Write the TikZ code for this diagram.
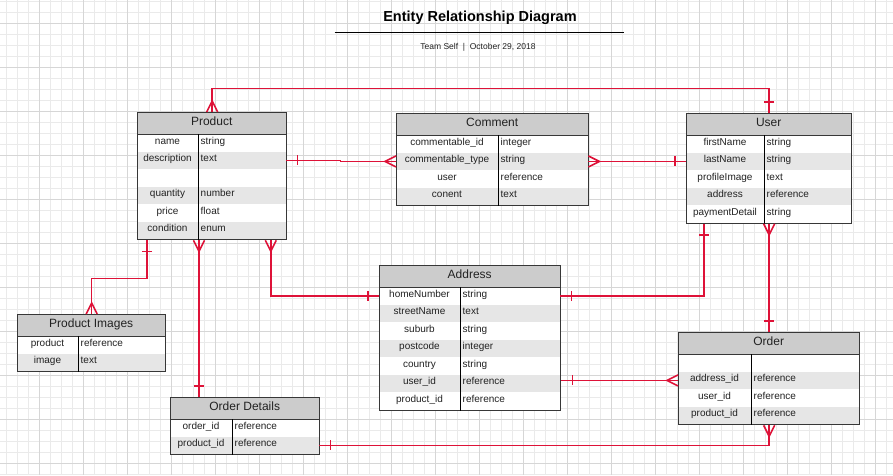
\documentclass[tikz,border=0pt]{standalone}
\usepackage{fontspec}
\setmainfont{Liberation Sans}
\usetikzlibrary{calc,decorations.markings}

\definecolor{errel}{RGB}{222,18,56}
\definecolor{erhead}{RGB}{204,204,204}
\definecolor{errow}{RGB}{230,230,230}
\definecolor{erline}{RGB}{55,55,55}
\definecolor{ertext}{RGB}{34,34,34}
\definecolor{gridminor}{RGB}{234,234,234}
\definecolor{gridmajor}{RGB}{214,214,214}

% #1 name, #2 title, #3 west, #4 north, #5 width, #6 divider, #7 rows, #8 fields
\newcommand{\erentity}[8]{%
  \node[erheadbox, minimum width=#5pt, anchor=north west] (#1-h) at (#3,#4) {#2};
  \foreach \f/\t [count=\i] in {#8} {
    \pgfmathsetmacro{\ry}{#4+22+17.5*(\i-1)}
    \ifodd\i\relax \def\rowfill{white}\else \def\rowfill{errow}\fi
    \node[errowbox, fill=\rowfill, minimum width=#5pt, anchor=north west] (#1-\i) at (#3,\ry) {};
    \node[erfield] (#1-\i-f) at ($(#1-\i.west)+(#6/2,-1)$) {\f};
    \node[erfield, anchor=west] (#1-\i-t) at ($(#1-\i.west)+(#6+2.5,-1)$) {\t};
  }
  \node[erbox, minimum width=#5pt, minimum height={22+17.5*#7}, anchor=north west] (#1) at (#3,#4) {};
  \draw[erline, line width=1.2pt] (#1-h.south west) -- (#1-h.south east);
  \draw[black, line width=0.9pt] ($(#1.north west)+(#6,22)$) -- ($(#1.south west)+(#6,0)$);
}

\begin{document}
\begin{tikzpicture}[x=1pt,y=-1pt]

    \tikzset{
      erheadbox/.style={fill=erhead, minimum height=22pt, inner sep=0pt, text=ertext,
        text height=8.6pt, text depth=3.5pt, font=\fontsize{12}{14}\selectfont},
      errowbox/.style={minimum height=17.5pt, inner sep=0pt},
      erfield/.style={inner sep=0pt, text=ertext, text height=7pt, text depth=2pt,
        font=\fontsize{10}{12}\selectfont},
      erbox/.style={draw=erline, line width=1.3pt, inner sep=0pt},
      rel/.style={draw=errel, line width=1.6pt},
      relmark/.style={draw=errel, line width=1.6pt},
      many start/.style={postaction={decorate, decoration={markings,
        mark=at position 0 with {\draw[relmark] (0pt,5.5pt) -- (11pt,0pt) -- (0pt,-5.5pt);}}}},
      many end/.style={postaction={decorate, decoration={markings,
        mark=at position 1 with {\draw[relmark] (0pt,5.5pt) -- (-11pt,0pt) -- (0pt,-5.5pt);}}}},
      one start/.style={postaction={decorate, decoration={markings,
        mark=at position 0 with {\draw[relmark] (11pt,5pt) -- (11pt,-5pt);}}}},
      one end/.style={postaction={decorate, decoration={markings,
        mark=at position 1 with {\draw[relmark] (-11pt,5pt) -- (-11pt,-5pt);}}}},
    }
    \useasboundingbox (0,0) rectangle (893,475);
    \fill[white] (0,0) rectangle (893,475);

    % grid
    \foreach \gx in {6.3,17.3,...,893} \draw[gridminor, line width=0.8pt] (\gx,0) -- (\gx,475);
    \foreach \gy in {1.3,12.3,...,475} \draw[gridminor, line width=0.8pt] (0,\gy) -- (893,\gy);
    \foreach \gx in {39.3,83.3,...,893} \draw[gridmajor, line width=0.8pt] (\gx,0) -- (\gx,475);
    \foreach \gy in {23.3,67.3,...,475} \draw[gridmajor, line width=0.8pt] (0,\gy) -- (893,\gy);

    % header
    \node[font=\bfseries\fontsize{14.5}{16}\selectfont] (title) at (480,17.7) {Entity Relationship Diagram};
    \draw[black, line width=1.2pt] (334.7,32.3) -- (624,32.3);
    \node[text=ertext, font=\fontsize{8.5}{10}\selectfont] (subtitle) at (478,47.5) {Team Self\ \ |\ \ October 29, 2018};

    % entities
    \erentity{product}{Product}{137}{112}{149}{61}{6}{name/string, description/text, {}/{}, quantity/number, price/float, condition/enum}
    \erentity{comment}{Comment}{396}{113}{192}{102}{4}{commentable\_id/integer, commentable\_type/string, user/reference, conent/text}
    \erentity{user}{User}{686}{113}{165}{78}{5}{firstName/string, lastName/string, profileImage/text, address/reference, paymentDetail/string}
    \erentity{pimages}{Product Images}{17}{314}{148}{61}{2}{product/reference, image/text}
    \erentity{odetails}{Order Details}{170}{397}{149}{62}{2}{order\_id/reference, product\_id/reference}
    \erentity{address}{Address}{379}{265}{181}{81}{7}{homeNumber/string, streetName/text, suburb/string, postcode/integer, country/string, user\_id/reference, product\_id/reference}
    \erentity{order}{Order}{678}{332}{181}{73}{4}{{}/{}, address\_id/reference, user\_id/reference, product\_id/reference}

    % relations
    \draw[rel, many start, one end] (product.north) -- ++(0,-23.5) -| (user.north);
    \draw[rel, one start, many end] (product-2.east) -- ++(54,0) |- (comment-2.west);
    \draw[rel, many start, one end] (comment-2.east) -- (user-2.west);
    \draw[rel, one start, many end] ($(product.south west)+(10,0)$) -- ++(0,38) -| (pimages.north);
    \draw[rel, many start, one end] ($(product.south west)+(62,0)$) -- ($(odetails.north west)+(29,0)$);
    \draw[rel, many start, one end] ($(product.south east)+(-16.5,0)$) |- (address-1.west);
    \draw[rel, one start, one end] (address-1.east) -| ($(user.south west)+(18,0)$);
    \draw[rel, many start, one end] (user.south) -- (order.north);
    \draw[rel, one start, many end] (address.east |- order-2.west) -- (order-2.west);
    \draw[rel, one start, many end] (odetails-2.east) -| (order.south);

\end{tikzpicture}
\end{document}
